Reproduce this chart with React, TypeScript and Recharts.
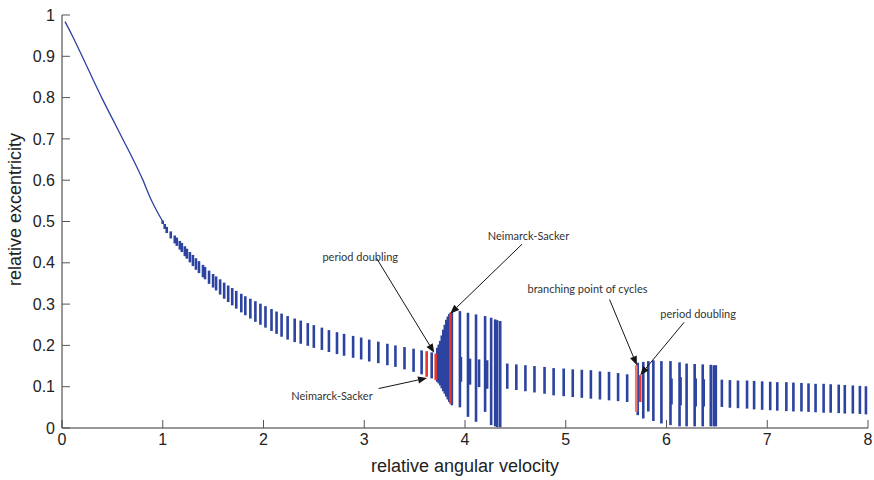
import React from 'react';
import { ComposedChart, Bar, Line, XAxis, YAxis, ReferenceLine, ReferenceDot } from 'recharts';

// Single-orbit branch (thin line), relative angular velocity vs relative excentricity
const curveOmega = [0.03, 0.1, 0.2, 0.3, 0.4, 0.5, 0.6, 0.7, 0.8, 0.88, 0.94, 1.0];
const curveEcc = [0.984, 0.951, 0.9, 0.848, 0.797, 0.749, 0.701, 0.653, 0.602, 0.555, 0.526, 0.5];

// [omega, eMin, eMax] of periodic cycles
const decayRanges: [number, number, number][] = [
  [1.0, 0.494, 0.502], [1.02, 0.482, 0.494], [1.04, 0.472, 0.487], [1.08, 0.459, 0.476],
  [1.12, 0.447, 0.466], [1.14, 0.441, 0.461], [1.17, 0.432, 0.453], [1.19, 0.426, 0.448],
  [1.22, 0.416, 0.44], [1.24, 0.41, 0.434], [1.27, 0.401, 0.426], [1.3, 0.392, 0.419],
  [1.33, 0.383, 0.411], [1.36, 0.375, 0.404], [1.4, 0.365, 0.395], [1.42, 0.36, 0.39],
  [1.46, 0.349, 0.381], [1.5, 0.34, 0.373], [1.53, 0.333, 0.367], [1.57, 0.323, 0.36],
  [1.61, 0.313, 0.352], [1.65, 0.305, 0.345], [1.69, 0.297, 0.339], [1.73, 0.289, 0.332],
  [1.78, 0.28, 0.325], [1.82, 0.273, 0.319], [1.87, 0.265, 0.313], [1.92, 0.257, 0.307],
  [1.97, 0.25, 0.301], [2.02, 0.243, 0.295], [2.08, 0.235, 0.288], [2.13, 0.228, 0.282],
  [2.18, 0.221, 0.277], [2.24, 0.214, 0.271], [2.31, 0.208, 0.265], [2.37, 0.204, 0.26],
  [2.44, 0.199, 0.254], [2.5, 0.194, 0.249], [2.58, 0.189, 0.243], [2.65, 0.184, 0.237],
  [2.73, 0.179, 0.232], [2.8, 0.175, 0.228], [2.89, 0.17, 0.223], [2.97, 0.166, 0.219],
  [3.05, 0.161, 0.214], [3.14, 0.157, 0.209], [3.23, 0.152, 0.204], [3.31, 0.148, 0.2],
  [3.4, 0.142, 0.196], [3.49, 0.136, 0.192], [3.57, 0.13, 0.188],
];

const torusRanges: [number, number, number][] = [
  [3.67, 0.12, 0.183], [3.725, 0.112, 0.194], [3.74, 0.108, 0.202], [3.755, 0.103, 0.211],
  [3.77, 0.096, 0.224], [3.785, 0.089, 0.238], [3.8, 0.083, 0.25], [3.815, 0.076, 0.262],
  [3.83, 0.069, 0.27], [3.845, 0.063, 0.276], [3.87, 0.055, 0.281], [3.95, 0.05, 0.283],
  [3.96, 0.112, 0.172], [4.03, 0.027, 0.279], [4.05, 0.105, 0.168], [4.11, 0.015, 0.275],
  [4.14, 0.099, 0.166], [4.2, 0.039, 0.271], [4.22, 0.095, 0.164], [4.26, 0.007, 0.267],
  [4.3, 0.004, 0.263], [4.32, 0.002, 0.261], [4.35, 0.002, 0.259], [4.42, 0.095, 0.156],
];

const tailRanges: [number, number, number][] = [
  [4.51, 0.092, 0.154], [4.6, 0.089, 0.152], [4.69, 0.086, 0.15], [4.79, 0.083, 0.148],
  [4.88, 0.079, 0.145], [4.98, 0.077, 0.144], [5.07, 0.075, 0.142], [5.16, 0.073, 0.141],
  [5.25, 0.071, 0.14], [5.34, 0.069, 0.137], [5.43, 0.067, 0.136], [5.52, 0.065, 0.133],
  [5.61, 0.063, 0.13], [5.715, 0.031, 0.158], [5.77, 0.023, 0.16], [5.82, 0.04, 0.162],
  [5.87, 0.017, 0.164], [5.95, 0.011, 0.162], [6.04, 0.007, 0.162], [6.05, 0.057, 0.12],
  [6.13, 0.004, 0.159], [6.14, 0.055, 0.123], [6.2, 0.004, 0.156], [6.28, 0.004, 0.155],
  [6.29, 0.052, 0.12], [6.36, 0.004, 0.154], [6.37, 0.052, 0.118], [6.44, 0.004, 0.153],
  [6.47, 0.004, 0.152], [6.49, 0.004, 0.152], [6.55, 0.051, 0.117], [6.63, 0.049, 0.116],
  [6.71, 0.048, 0.115], [6.8, 0.047, 0.115], [6.87, 0.045, 0.114], [6.95, 0.044, 0.113],
  [7.03, 0.043, 0.112], [7.1, 0.042, 0.111], [7.19, 0.041, 0.111], [7.26, 0.04, 0.11],
  [7.34, 0.04, 0.109], [7.41, 0.039, 0.108], [7.48, 0.038, 0.107], [7.56, 0.037, 0.107],
  [7.63, 0.037, 0.106], [7.71, 0.036, 0.105], [7.77, 0.035, 0.104], [7.85, 0.035, 0.103],
  [7.92, 0.034, 0.102], [7.98, 0.033, 0.101],
];

// branching point of cycles
const branchRanges: [number, number, number][] = [[5.7, 0.039, 0.152]];
// bifurcation cycles (red)
const bifurcationRanges: [number, number, number][] = [
  [3.62, 0.124, 0.186], [3.71, 0.116, 0.18], [3.855, 0.059, 0.279], [5.74, 0.063, 0.128],
];

const xTicks = [0, 1, 2, 3, 4, 5, 6, 7, 8];
const yTicks = [0, 0.1, 0.2, 0.3, 0.4, 0.5, 0.6, 0.7, 0.8, 0.9, 1];

const annotations = [
  { text: 'period doubling', tx: 2.96, ty: 0.414, from: [3.12, 0.412], to: [3.695, 0.182] },
  { text: 'Neimarck-Sacker', tx: 4.63, ty: 0.465, from: [4.566, 0.445], to: [3.854, 0.277] },
  { text: 'Neimarck-Sacker', tx: 2.68, ty: 0.077, from: [3.143, 0.0955], to: [3.623, 0.121] },
  { text: 'branching point of cycles', tx: 5.216, ty: 0.3355, from: [5.435, 0.311], to: [5.706, 0.152] },
  { text: 'period doubling', tx: 6.314, ty: 0.277, from: [6.175, 0.256], to: [5.739, 0.128] },
];

const COLORS: Record<string, string> = { cycle: '#2c43a0', bif: '#e4372b', branch: '#ef7a6f' };

type Row = { omega: number; curve?: number; range?: [number, number]; kind?: string };

// order matters: red bifurcation cycles are drawn on top of the blue ones
const rows: Row[] = [
  ...curveOmega.map((o, i) => ({ omega: o, curve: curveEcc[i] })),
  ...[...decayRanges, ...torusRanges, ...tailRanges].map(([o, a, b]) => ({ omega: o, range: [a, b] as [number, number], kind: 'cycle' })),
  ...branchRanges.map(([o, a, b]) => ({ omega: o, range: [a, b] as [number, number], kind: 'branch' })),
  ...bifurcationRanges.map(([o, a, b]) => ({ omega: o, range: [a, b] as [number, number], kind: 'bif' })),
];

const SegmentShape = (p: any) => {
  const { x, y, width, height, payload } = p;
  if (!payload || !payload.range || ![x, y, width, height].every((v) => Number.isFinite(v))) return null;
  const w = 2.6;
  const cx = x + width / 2;
  const top = height < 0 ? y + height : y;
  return <rect x={cx - w / 2} y={top} width={w} height={Math.max(Math.abs(height), 1)} fill={COLORS[payload.kind] || COLORS.cycle} />;
};

const ArrowShape = (p: any) => {
  const { x1, y1, x2, y2 } = p;
  if (![x1, y1, x2, y2].every((v) => Number.isFinite(v))) return null;
  const dx = x2 - x1, dy = y2 - y1;
  const len = Math.hypot(dx, dy) || 1;
  const ux = dx / len, uy = dy / len;
  const hl = 9, hw = 3.6;
  const bx = x2 - ux * hl, by = y2 - uy * hl;
  return (
    <g>
      <line x1={x1} y1={y1} x2={bx} y2={by} stroke="#151515" strokeWidth={1} />
      <polygon points={`${x2},${y2} ${bx - uy * hw},${by + ux * hw} ${bx + uy * hw},${by - ux * hw}`} fill="#151515" />
    </g>
  );
};

const tickStyle = { fontSize: 16, fill: '#222', fontFamily: 'Liberation Sans, Arial, sans-serif' };

const YTitle = (lp: any) => {
  const vb = lp.viewBox || {};
  const cx = (vb.x ?? 0) + 15;
  const cy = (vb.y ?? 0) + (vb.height ?? 0) / 2 - 12;
  return (
    <text x={cx} y={cy} transform={`rotate(-90, ${cx}, ${cy})`} textAnchor="middle" dominantBaseline="central"
      fontSize={18} fill="#222" fontFamily="Liberation Sans, Arial, sans-serif">relative excentricity</text>
  );
};

const XTitle = (lp: any) => {
  const vb = lp.viewBox || {};
  const cx = (vb.x ?? 0) + (vb.width ?? 0) / 2;
  const by = (vb.y ?? 0) + 44;
  return (
    <text x={cx} y={by} textAnchor="middle" fontSize={18} fill="#222" fontFamily="Liberation Sans, Arial, sans-serif">relative angular velocity</text>
  );
};

export default function App() {
  return (
    <div style={{ position: 'absolute', left: 0, top: 0, background: '#fff' }}>
      <ComposedChart width={874} height={480} data={rows} margin={{ top: 15, right: 6, bottom: 0, left: 0 }}>
        <XAxis dataKey="omega" type="number" domain={[0, 8]} ticks={xTicks} allowDataOverflow
          height={52} tickSize={-8} tickMargin={14} tick={tickStyle}
          axisLine={{ stroke: '#333' }} tickLine={{ stroke: '#555' }} label={{ content: XTitle }} />
        <YAxis type="number" domain={[0, 1]} ticks={yTicks} allowDataOverflow
          width={62} tickSize={-8} tickMargin={15} tick={tickStyle}
          axisLine={{ stroke: '#333' }} tickLine={{ stroke: '#555' }} label={{ content: YTitle }} />
        <Line dataKey="curve" type="monotone" stroke={COLORS.cycle} strokeWidth={1.3} dot={false}
          connectNulls isAnimationActive={false} />
        <Bar dataKey="range" barSize={3} shape={SegmentShape} isAnimationActive={false} />
        {annotations.map((a, i) => (
          <ReferenceLine key={`a${i}`} segment={[{ x: a.from[0], y: a.from[1] }, { x: a.to[0], y: a.to[1] }]}
            shape={ArrowShape} ifOverflow="visible" />
        ))}
        {annotations.map((a, i) => (
          <ReferenceDot key={`t${i}`} x={a.tx} y={a.ty} r={0} fill="none" stroke="none" ifOverflow="visible"
            label={{ value: a.text, position: 'center', fill: '#333', fontSize: 11, fontFamily: 'Lato, sans-serif' }} />
        ))}
      </ComposedChart>
    </div>
  );
}
